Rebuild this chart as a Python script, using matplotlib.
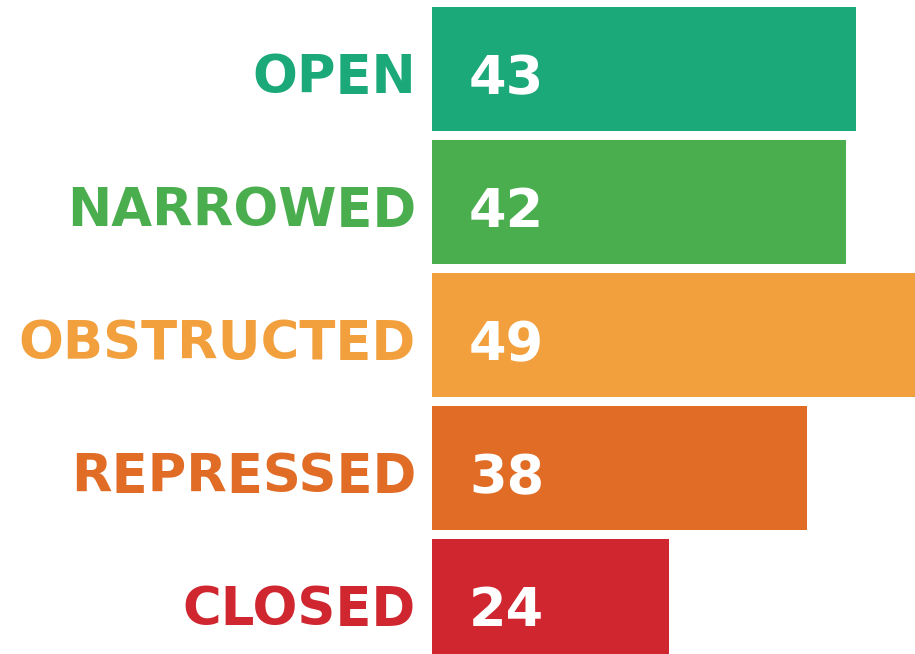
import matplotlib.pyplot as plt

labels = ["OPEN", "NARROWED", "OBSTRUCTED", "REPRESSED", "CLOSED"]
values = [43, 42, 49, 38, 24]
colors = ["#1ba97a", "#4aae4f", "#f2a03d", "#e06c26", "#cf2630"]

fig = plt.figure(figsize=(9.15, 6.54), dpi=100)
ax = fig.add_axes([432/915, 0, 1 - 432/915, 1])

ypos = list(range(len(labels)))
ax.barh(ypos, values, height=0.93, color=colors)
ax.set_xlim(0, 49)
ax.set_ylim(4.398, -0.519)
ax.axis("off")

for i, (lab, v, c) in enumerate(zip(labels, values, colors)):
    # category name left of the bar
    ax.annotate(lab, xy=(0, i), xytext=(-16, -24), textcoords="offset pixels",
                ha="right", va="baseline", color=c, fontsize=38,
                fontweight="bold", family="DejaVu Sans")
    # value inside the bar
    ax.annotate(str(v), xy=(0, i), xytext=(37, -25), textcoords="offset pixels",
                ha="left", va="baseline", color="white", fontsize=39,
                fontweight="bold", family="DejaVu Sans")

fig.savefig("out.png", dpi=100)
